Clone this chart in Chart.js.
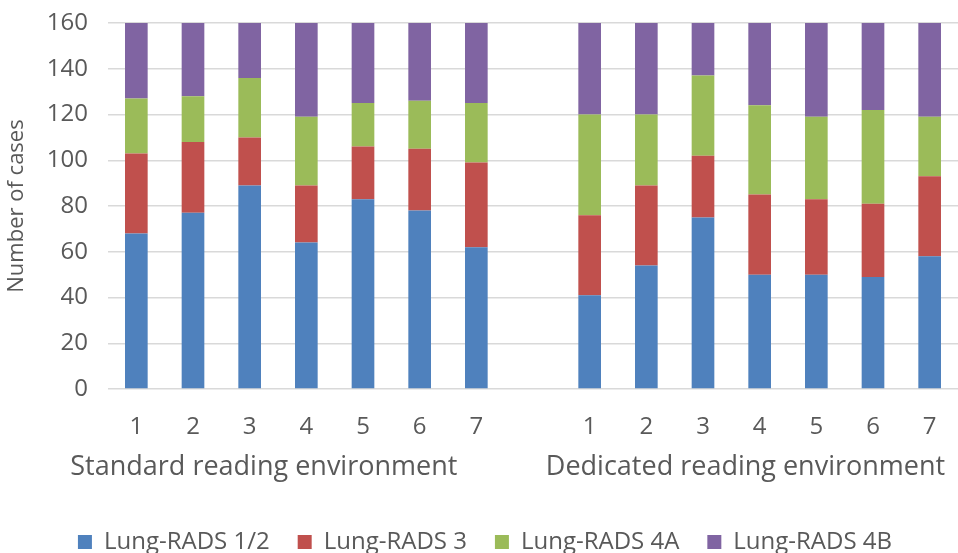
<!DOCTYPE html>
<html>
<head>
<meta charset="utf-8">
<script src="https://cdn.jsdelivr.net/npm/chart.js@4/dist/chart.umd.min.js"></script>
<style>
  html, body { margin: 0; padding: 0; background: #fff; }
  #wrap { width: 958px; height: 553px; }
</style>
</head>
<body>
<div id="wrap"><canvas id="casesChart"></canvas></div>
<script>
// readers 1-7 in each environment, blank slot between the two groups
const readers = ['1', '2', '3', '4', '5', '6', '7', '', '1', '2', '3', '4', '5', '6', '7'];
// group captions sit on a half-slot axis (two slots per reader)
const groupLabels = Array(30).fill('');
groupLabels[5] = 'Standard reading environment';
groupLabels[22] = 'Dedicated reading environment';
const yTicks = [0, 20, 40, 60, 80, 100, 120, 140, 160];

const rads12 = [68, 77, 89, 64, 83, 78, 62, null, 41, 54, 75, 50, 50, 49, 58];
const rads3  = [35, 31, 21, 25, 23, 27, 37, null, 35, 35, 27, 35, 33, 32, 35];
const rads4A = [24, 20, 26, 30, 19, 21, 26, null, 44, 31, 35, 39, 36, 41, 26];
const rads4B = [33, 32, 24, 41, 35, 34, 35, null, 40, 40, 23, 36, 41, 38, 41];

const font = '"Open Sans", "Noto Sans", sans-serif';
const grey = '#595959';

function series(label, data, color) {
  return { label, data, backgroundColor: color, borderWidth: 0, barPercentage: 0.4, categoryPercentage: 1 };
}

new Chart(document.getElementById('casesChart'), {
  type: 'bar',
  data: {
    labels: readers,
    datasets: [
      series('Lung-RADS 1/2', rads12, '#4F81BD'),
      series('Lung-RADS 3', rads3, '#C0504D'),
      series('Lung-RADS 4A', rads4A, '#9BBB59'),
      series('Lung-RADS 4B', rads4B, '#8064A2')
    ]
  },
  options: {
    responsive: true,
    maintainAspectRatio: false,
    animation: false,
    layout: { padding: { top: 23, right: -12, left: 0, bottom: -11 } },
    plugins: {
      tooltip: { enabled: false },
      legend: {
        position: 'bottom',
        labels: { color: grey, font: { family: font, size: 24 }, boxWidth: 14, boxHeight: 14, padding: 28 }
      }
    },
    scales: {
      x: {
        stacked: true,
        grid: { display: false },
        border: { display: false },
        ticks: { color: grey, font: { family: font, size: 24 }, autoSkip: false, maxRotation: 0, padding: 16 },
        afterFit: (scale) => { scale.height = 47; }
      },
      x2: {
        type: 'category',
        labels: groupLabels,
        position: 'bottom',
        grid: { display: false },
        border: { display: false },
        ticks: { color: grey, font: { family: font, size: 27 }, autoSkip: false, maxRotation: 0, padding: 7 },
        afterFit: (scale) => { scale.height = 66; }
      },
      y: {
        stacked: true,
        min: 0,
        max: 160,
        afterBuildTicks: (axis) => { axis.ticks = yTicks.map((v) => ({ value: v })); },
        grid: { color: '#d9d9d9', lineWidth: 1.5, drawTicks: false },
        border: { display: false },
        ticks: { color: grey, font: { family: font, size: 24 }, padding: 20 },
        title: { display: true, text: 'Number of cases', color: grey, font: { family: font, size: 22 }, padding: 4 },
        afterFit: (scale) => { scale.width = 108; scale.paddingTop = 0; scale.paddingBottom = 0; }
      }
    }
  }
});
</script>
</body>
</html>
